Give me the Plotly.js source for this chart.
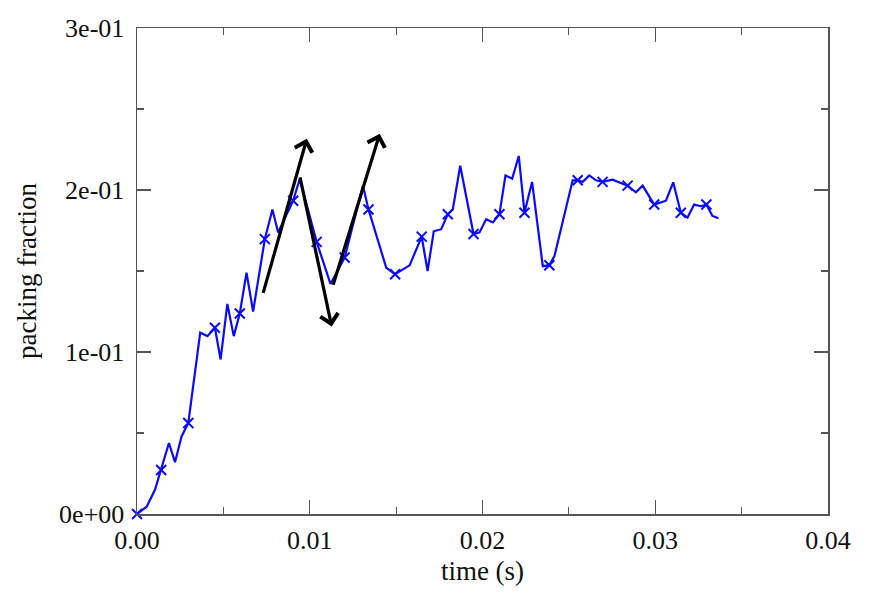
<!DOCTYPE html>
<html>
<head>
<meta charset="utf-8">
<script src="https://cdn.plot.ly/plotly-3.0.1.min.js"></script>
<style>
html,body{margin:0;padding:0;background:#fff;}
#chart{width:870px;height:595px;}
</style>
</head>
<body>
<div id="chart"></div>
<script>
// time (s)
const time = [0, 0.00056, 0.00104, 0.00140, 0.00185, 0.0022, 0.00258, 0.00297, 0.00366, 0.00408,
  0.00451, 0.00484, 0.00523, 0.0056, 0.00595, 0.00634, 0.00672, 0.0074, 0.00784, 0.00817,
  0.00904, 0.00942, 0.01040, 0.01120, 0.01202, 0.01308, 0.01340, 0.01443, 0.01494, 0.01578,
  0.01648, 0.01682, 0.01718, 0.01761, 0.01799, 0.01828, 0.01871, 0.01948, 0.01983, 0.02021,
  0.0206, 0.02098, 0.02133, 0.02172, 0.0221, 0.02243, 0.02287, 0.02349, 0.02387, 0.02416,
  0.02522, 0.02551, 0.0258, 0.02618, 0.02657, 0.02695, 0.02753, 0.0284, 0.02888, 0.02927,
  0.02994, 0.03062, 0.03104, 0.03148, 0.03187, 0.03225, 0.03264, 0.03296, 0.03331, 0.03366];
// packing fraction
const packing = [0, 0.0045, 0.0149, 0.0272, 0.0438, 0.0320, 0.0479, 0.0562, 0.1119, 0.1098,
  0.1150, 0.0954, 0.1297, 0.1098, 0.1238, 0.1490, 0.1250, 0.1697, 0.1880, 0.1738,
  0.1934, 0.2068, 0.1680, 0.1420, 0.1583, 0.2027, 0.1880, 0.1520, 0.1480, 0.1535,
  0.1712, 0.1500, 0.1745, 0.1758, 0.1850, 0.1880, 0.2150, 0.1728, 0.1738, 0.1820,
  0.1800, 0.1850, 0.2090, 0.2070, 0.2210, 0.1860, 0.2050, 0.1530, 0.1536, 0.1590,
  0.2060, 0.2060, 0.2050, 0.2090, 0.2060, 0.2050, 0.2064, 0.2027, 0.1986, 0.2027,
  0.1910, 0.1934, 0.2047, 0.1860, 0.1830, 0.1910, 0.1900, 0.1910, 0.1840, 0.1826];
// indices of samples drawn with an "x" marker
const markedIdx = [0, 3, 7, 10, 14, 17, 20, 22, 24, 26, 28, 30, 34, 37, 41, 45, 48, 51, 55, 57, 60, 63, 67];

const xTickVals = [0, 0.01, 0.02, 0.03, 0.04];
const xTickText = ['0.00', '0.01', '0.02', '0.03', '0.04'];
const yTickVals = [0, 0.1, 0.2, 0.3];
const yTickText = ['0e+00', '1e-01', '2e-01', '3e-01'];

const blue = '#0a0aff';
const axisColor = '#555555';
const family = '"Liberation Serif", "Times New Roman", serif';
const tickFont = {family: family, size: 26, color: '#111'};
const titleFont = {family: family, size: 27, color: '#111'};

const traces = [
  {x: time, y: packing, mode: 'lines', line: {color: blue, width: 2.2}, cliponaxis: false, hoverinfo: 'skip'},
  {x: markedIdx.map(i => time[i]), y: markedIdx.map(i => packing[i]), mode: 'markers',
   marker: {symbol: 'x-thin', size: 10, line: {color: blue, width: 2}}, cliponaxis: false}
];

function arrow(x0, y0, x1, y1) {
  return {x: x1, y: y1, ax: x0, ay: y0, xref: 'x', yref: 'y', axref: 'x', ayref: 'y',
    text: '', showarrow: true, arrowhead: 4, arrowsize: 1.1, arrowwidth: 3.2, arrowcolor: '#000'};
}

const axisCommon = {
  showgrid: false, zeroline: false, showline: true, linecolor: axisColor, linewidth: 1.5,
  mirror: 'ticks', ticks: 'inside', ticklen: 14, tickwidth: 1.2, tickcolor: axisColor,
  tickfont: tickFont
};

const layout = {
  width: 870, height: 595,
  margin: {l: 137, r: 42, t: 28, b: 81},
  paper_bgcolor: '#fff', plot_bgcolor: '#fff',
  showlegend: false,
  font: tickFont,
  xaxis: Object.assign({}, axisCommon, {
    range: [0, 0.04], tickmode: 'array', tickvals: xTickVals, ticktext: xTickText,
    ticklabelstandoff: 2,
    minor: {ticks: 'inside', ticklen: 7, dtick: 0.005, tickcolor: axisColor, tickwidth: 1.2},
    title: {text: 'time (s)', font: titleFont, standoff: 7}
  }),
  yaxis: Object.assign({}, axisCommon, {
    range: [0, 0.3], tickmode: 'array', tickvals: yTickVals, ticktext: yTickText,
    ticklabelstandoff: 6,
    minor: {ticks: 'inside', ticklen: 7, dtick: 0.05, tickcolor: axisColor, tickwidth: 1.2},
    title: {text: 'packing fraction', font: titleFont, standoff: 14}
  }),
  annotations: [
    arrow(0.00728, 0.1356, 0.00983, 0.2316),
    arrow(0.00942, 0.2087, 0.01127, 0.1158),
    arrow(0.01133, 0.1406, 0.01405, 0.2347)
  ]
};

Plotly.newPlot('chart', traces, layout, {displayModeBar: false, staticPlot: true});
</script>
</body>
</html>
